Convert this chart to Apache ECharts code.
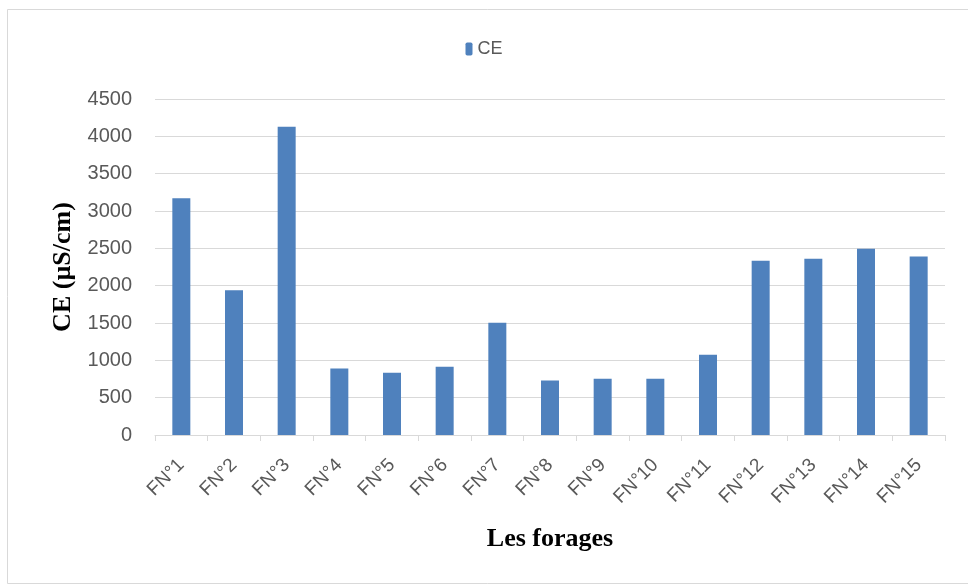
<!DOCTYPE html>
<html>
<head>
<meta charset="utf-8">
<script src="https://cdn.jsdelivr.net/npm/echarts@6/dist/echarts.min.js"></script>
<style>
html,body{margin:0;padding:0;background:#fff;}
#chart{width:968px;height:585px;}
</style>
</head>
<body>
<div id="chart"></div>
<script>
const categories = ["FN°1","FN°2","FN°3","FN°4","FN°5","FN°6","FN°7","FN°8","FN°9","FN°10","FN°11","FN°12","FN°13","FN°14","FN°15"];
const ceValues = [3170, 1940, 4130, 890, 835, 915, 1505, 730, 755, 755, 1075, 2335, 2360, 2495, 2390];
const seriesName = "CE";
const yAxisTitle = "CE (µS/cm)";
const xAxisTitle = "Les forages";

const chart = echarts.init(document.getElementById('chart'), null, {renderer: 'canvas'});
chart.setOption({
  animation: false,
  backgroundColor: '#ffffff',
  graphic: [
    {type: 'line', shape: {x1: 7.5, y1: 9.5, x2: 968, y2: 9.5}, style: {stroke: '#d9d9d9', lineWidth: 1}},
    {type: 'line', shape: {x1: 7.5, y1: 9.5, x2: 7.5, y2: 583.5}, style: {stroke: '#d9d9d9', lineWidth: 1}},
    {type: 'line', shape: {x1: 7.5, y1: 583.5, x2: 968, y2: 583.5}, style: {stroke: '#d9d9d9', lineWidth: 1}}
  ],
  legend: {
    data: [seriesName],
    top: 35,
    left: 'center',
    itemWidth: 7,
    itemHeight: 13,
    itemGap: 5,
    textStyle: {color: '#595959', fontSize: 18, fontFamily: '"Liberation Sans Narrow", "Liberation Sans", sans-serif'}
  },
  grid: {left: 155, right: 23, top: 99, bottom: 150, containLabel: false},
  xAxis: {
    type: 'category',
    data: categories,
    name: xAxisTitle,
    nameLocation: 'middle',
    nameGap: 91,
    nameTextStyle: {color: '#000', fontSize: 26, fontWeight: 'bold', fontFamily: '"Liberation Serif", "Times New Roman", serif'},
    axisLine: {show: true, lineStyle: {color: '#d9d9d9', width: 1}},
    axisTick: {show: true, alignWithLabel: false, length: 6, lineStyle: {color: '#d9d9d9'}},
    axisLabel: {rotate: 45, color: '#595959', fontSize: 19, margin: 27, interval: 0, fontFamily: '"Liberation Sans", sans-serif'}
  },
  yAxis: {
    type: 'value',
    min: 0,
    max: 4500,
    interval: 500,
    name: yAxisTitle,
    nameLocation: 'middle',
    nameGap: 76,
    nameRotate: 90,
    nameTextStyle: {color: '#000', fontSize: 26, fontWeight: 'bold', fontFamily: '"Liberation Serif", "Times New Roman", serif'},
    axisLine: {show: false},
    axisTick: {show: false},
    splitLine: {show: true, lineStyle: {color: '#d9d9d9', width: 1}},
    axisLabel: {color: '#595959', fontSize: 20, margin: 23, fontFamily: '"Liberation Sans", sans-serif', formatter: function (v) { return String(v); }}
  },
  series: [{
    name: seriesName,
    type: 'bar',
    data: ceValues,
    barWidth: 18,
    itemStyle: {color: '#4f81bd'}
  }]
});
</script>
</body>
</html>
